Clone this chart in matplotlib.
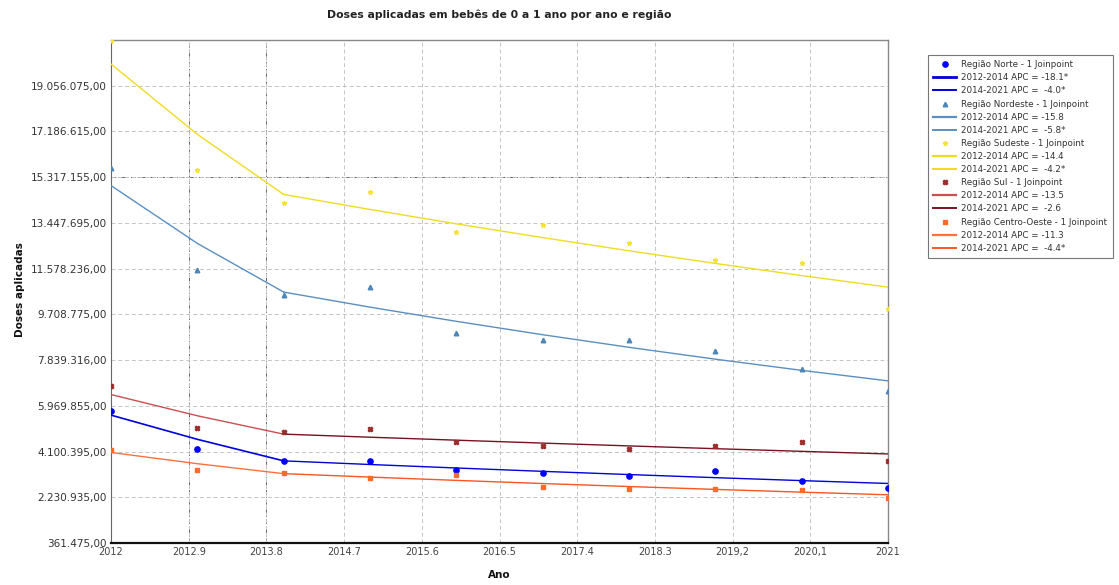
import matplotlib
matplotlib.use("Agg")
import matplotlib.pyplot as plt
from matplotlib.lines import Line2D

years = [2012, 2013, 2014, 2015, 2016, 2017, 2018, 2019, 2020, 2021]

# observed values (doses)
norte = [5749000, 4198000, 3708000, 3708000, 3341000, 3219000, 3096000, 3300000, 2892000, 2606000]
nordeste = [15697000, 11505000, 10513000, 10823000, 8962000, 8660000, 8648000, 8227000, 7492000, 6578000]
sudeste = [20900000, 15627000, 14280000, 14729000, 13096000, 13354000, 12635000, 11941000, 11819000, 9925000]
sul = [6798000, 5043000, 4880000, 5027000, 4484000, 4308000, 4210000, 4333000, 4472000, 3721000]
centro_oeste = [4157000, 3341000, 3206000, 3002000, 3125000, 2659000, 2578000, 2565000, 2537000, 2186000]

# joinpoint fitted values
fit_norte = [5590000, 4600000, 3720000, 3571000, 3428000, 3291000, 3160000, 3033000, 2912000, 2795000]
fit_nordeste = [14974000, 12610000, 10620000, 10004000, 9424000, 8877000, 8362000, 7877000, 7420000, 6990000]
fit_sudeste = [19942000, 17070000, 14612000, 13998000, 13410000, 12847000, 12308000, 11791000, 11296000, 10822000]
fit_sul = [6431000, 5563000, 4812000, 4687000, 4565000, 4446000, 4331000, 4218000, 4109000, 4002000]
fit_centro = [4063000, 3604000, 3197000, 3056000, 2922000, 2793000, 2670000, 2553000, 2440000, 2333000]

region_labels = ["Região Norte - 1 Joinpoint", "Região Nordeste - 1 Joinpoint",
                 "Região Sudeste - 1 Joinpoint", "Região Sul - 1 Joinpoint",
                 "Região Centro-Oeste - 1 Joinpoint"]
seg1_labels = ["2012-2014 APC = -18.1*", "2012-2014 APC = -15.8", "2012-2014 APC = -14.4",
               "2012-2014 APC = -13.5", "2012-2014 APC = -11.3"]
seg2_labels = ["2014-2021 APC =  -4.0*", "2014-2021 APC =  -5.8*", "2014-2021 APC =  -4.2*",
               "2014-2021 APC =  -2.6", "2014-2021 APC =  -4.4*"]

xticks = [2012, 2012.9, 2013.8, 2014.7, 2015.6, 2016.5, 2017.4, 2018.3, 2019.2, 2020.1, 2021]
xticklabels = ["2012", "2012.9", "2013.8", "2014.7", "2015.6", "2016.5", "2017.4", "2018.3",
               "2019,2", "2020,1", "2021"]
yticks = [361475, 2230935, 4100395, 5969855, 7839315, 9708775, 11578235, 13447695,
          15317155, 17186615, 19056075]
yticklabels = ["361.475,00", "2.230.935,00", "4.100.395,00", "5.969.855,00", "7.839.316,00",
               "9.708.775,00", "11.578.236,00", "13.447.695,00", "15.317.155,00",
               "17.186.615,00", "19.056.075,00"]

obs = [norte, nordeste, sudeste, sul, centro_oeste]
fits = [fit_norte, fit_nordeste, fit_sudeste, fit_sul, fit_centro]
marker_colors = ["#0000ff", "#4f86b8", "#f2e23a", "#9b2b2b", "#ff6a2a"]
markers = ["o", "^", "*", "X", "s"]
msizes = [3.8, 3.3, 3.5, 3.3, 2.4]
seg1_colors = ["#0000dd", "#5b8fc0", "#f0dc20", "#c9504f", "#ff6f3c"]
seg2_colors = ["#0000dd", "#5b8fc0", "#f0dc20", "#7a1020", "#ff5522"]
seg1_lw = [1.2, 1.0, 1.0, 1.0, 1.0]

fig = plt.figure(figsize=(11.19, 5.85), dpi=100)
ax = fig.add_axes([111 / 1119, 1 - 543 / 585, (888 - 111) / 1119, (543 - 40) / 585])

for i in range(5):
    ax.plot(years[:3], fits[i][:3], color=seg1_colors[i], lw=seg1_lw[i], zorder=3)
    ax.plot(years[2:], fits[i][2:], color=seg2_colors[i], lw=1.0, zorder=3)
    ax.plot(years, obs[i], linestyle="none", marker=markers[i], color=marker_colors[i],
            markersize=msizes[i], zorder=4, clip_on=True)

ax.set_xlim(2012, 2021)
ax.set_ylim(361475, 20925535)
ax.set_xticks(xticks)
ax.set_xticklabels(xticklabels, fontsize=7, color="#444444")
ax.set_yticks(yticks)
ax.set_yticklabels(yticklabels, fontsize=7.5, color="#333333")
ax.tick_params(length=0, pad=3)

ax.grid(True, color="#c4c4c4", linestyle=(0, (4, 3)), linewidth=0.7)
# darker dash-dot crosshair lines
for xv in [2012.9, 2013.8]:
    ax.axvline(xv, color="#666666", linestyle=(0, (5, 2, 1, 2)), linewidth=0.7, zorder=1)
ax.axhline(15317155, color="#666666", linestyle=(0, (5, 2, 1, 2)), linewidth=0.7, zorder=1)

for s in ["top", "right"]:
    ax.spines[s].set_color("#888888")
    ax.spines[s].set_linewidth(1.0)
ax.spines["left"].set_color("#666666")
ax.spines["bottom"].set_color("#111111")
ax.spines["bottom"].set_linewidth(1.6)

fig.text(0.5 * (111 + 888) / 1119, 1 - 15 / 585, "Doses aplicadas em bebês de 0 a 1 ano por ano e região",
         ha="center", va="center", fontsize=7.8, fontweight="bold", color="#222222")
fig.text(499 / 1119, 1 - 575 / 585, "Ano", ha="center", va="center", fontsize=7.5,
         fontweight="bold", color="#111111")
fig.text(20 / 1119, 1 - 290 / 585, "Doses aplicadas", ha="center", va="center", rotation=90,
         fontsize=7.5, fontweight="bold", color="#111111")

handles, labels = [], []
for i in range(5):
    handles.append(Line2D([], [], linestyle="none", marker=markers[i], color=marker_colors[i],
                          markersize=msizes[i]))
    labels.append(region_labels[i])
    handles.append(Line2D([], [], color=seg1_colors[i], lw=2.0 if i == 0 else 1.6))
    labels.append(seg1_labels[i])
    handles.append(Line2D([], [], color=seg2_colors[i], lw=1.4))
    labels.append(seg2_labels[i])

leg = fig.legend(handles, labels, loc="upper left", bbox_to_anchor=(928 / 1119, 1 - 55 / 585),
                 fontsize=6.3, frameon=True, fancybox=False, edgecolor="#555555",
                 handlelength=2.6, handletextpad=0.6, labelspacing=0.47, borderpad=0.6,
                 borderaxespad=0)
leg.get_frame().set_linewidth(0.8)
for t in leg.get_texts():
    t.set_color("#333333")

fig.savefig("out.png", dpi=100)
